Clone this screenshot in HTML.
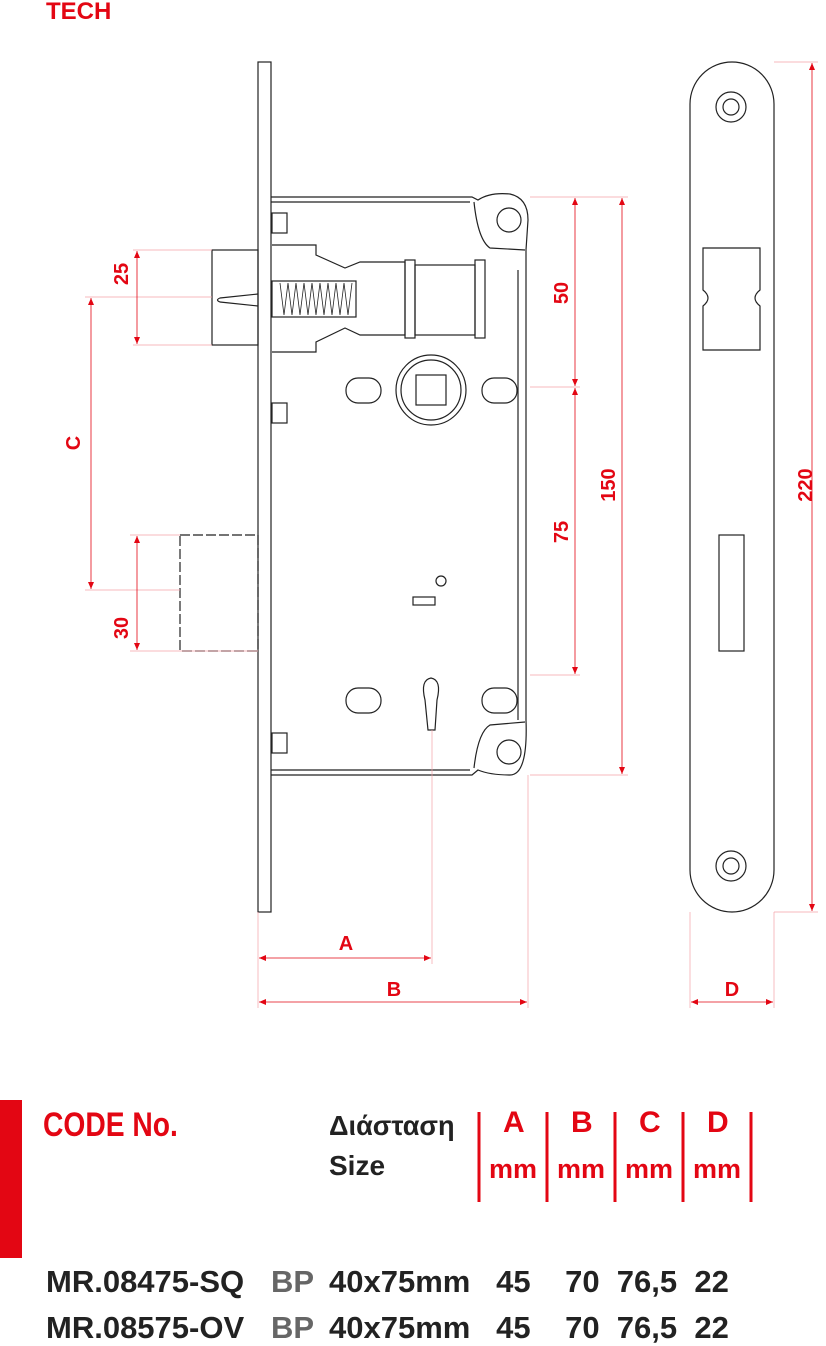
<!DOCTYPE html>
<html><head><meta charset="utf-8"><style>
body{margin:0;background:#fff;width:826px;height:1346px;overflow:hidden;position:relative;font-family:"Liberation Sans",sans-serif;}
.t{position:absolute;font-weight:bold;white-space:nowrap;transform-origin:0 0;}
.r{color:#e30613}
</style></head><body>
<svg width="826" height="1346" style="position:absolute;left:0;top:0">
<defs><marker id="ar" markerWidth="8" markerHeight="8" refX="7" refY="4" orient="auto-start-reverse" markerUnits="userSpaceOnUse"><path d="M0,1 L7,4 L0,7 z" fill="#e30613"/></marker></defs>
<g fill="none" stroke="#222" stroke-width="1.2">
<rect x="258" y="62" width="13" height="850"/>
<path d="M271 197 H472 L478 200 Q490 192 510 194 Q528 198 528 220 L526 250 V720 Q528 775 510 775 Q490 775 478 770 L472 775 H271"/>
<path d="M271 202 H470"/>
<path d="M271 770 H470"/>
<circle cx="509" cy="220" r="12"/><circle cx="509" cy="752" r="12"/>
<path d="M474 202 Q478 240 490 248 L525 250"/>
<path d="M474 768 Q478 732 490 725 L525 722"/>
<line x1="518" y1="270" x2="518" y2="720"/>
<rect x="212" y="250" width="46" height="95"/>
<path d="M258 294 L220 298 Q215 300 220 302 L258 306"/>
<rect x="272" y="281" width="84" height="36"/>
<path d="M272 245 H316 V255 L345 268 L360 262 H405 V335 H360 L345 328 L316 342 V352 H272"/>
<rect x="405" y="260" width="10" height="78"/>
<rect x="415" y="265" width="60" height="70"/>
<rect x="475" y="260" width="10" height="78"/>
<path d="M280 283 l4 32 l4 -32 l4 32 l4 -32 l4 32 l4 -32 l4 32 l4 -32 l4 32 l4 -32 l4 32 l4 -32 l4 32 l4 -32 l4 32 l4 -32 l4 32 l4 -32" stroke-width="0.8"/>
<rect x="272" y="213" width="15" height="20"/><rect x="272" y="403" width="15" height="20"/><rect x="272" y="733" width="15" height="20"/>
<circle cx="431" cy="390" r="35"/><circle cx="431" cy="390" r="30"/>
<rect x="416" y="375" width="30" height="30"/>
<rect x="346" y="378" width="35" height="25" rx="12"/><rect x="482" y="378" width="35" height="25" rx="12"/>
<rect x="346" y="688" width="35" height="25" rx="12"/><rect x="482" y="688" width="35" height="25" rx="12"/>
<circle cx="441" cy="581" r="5"/><rect x="413" y="597" width="22" height="8"/>
<path d="M425 700 Q420 680 431 678 Q442 680 437 700 L435 730 H428 Z"/>
<rect x="180" y="535" width="78" height="116" stroke-dasharray="10 3"/>
<rect x="690" y="62" width="84" height="850" rx="42"/>
<circle cx="731" cy="107" r="15"/><circle cx="731" cy="107" r="8"/>
<circle cx="731" cy="866" r="15"/><circle cx="731" cy="866" r="8"/>
<path d="M703 248 H760 V290 Q750 298 760 306 V350 H703 V306 Q713 298 703 290 Z"/>
<rect x="719" y="535" width="25" height="116"/>
</g>
<g stroke="#f4a0a8" stroke-width="0.7">
<line x1="133" y1="250" x2="212" y2="250"/><line x1="133" y1="345" x2="212" y2="345"/>
<line x1="85" y1="297" x2="212" y2="297"/><line x1="85" y1="590" x2="180" y2="590"/>
<line x1="130" y1="535" x2="180" y2="535"/><line x1="130" y1="651" x2="258" y2="651"/>
<line x1="530" y1="197" x2="628" y2="197"/><line x1="530" y1="387" x2="580" y2="387"/><line x1="530" y1="675" x2="580" y2="675"/><line x1="530" y1="775" x2="628" y2="775"/>
<line x1="774" y1="62" x2="818" y2="62"/><line x1="774" y1="912" x2="818" y2="912"/>
<line x1="258" y1="912" x2="258" y2="1008"/><line x1="432" y1="730" x2="432" y2="964"/><line x1="528" y1="775" x2="528" y2="1008"/>
<line x1="690" y1="912" x2="690" y2="1008"/><line x1="774" y1="912" x2="774" y2="1008"/>
</g>
<g stroke="#e30613" stroke-width="0.8" marker-start="url(#ar)" marker-end="url(#ar)">
<line x1="137" y1="251" x2="137" y2="344"/>
<line x1="91" y1="298" x2="91" y2="589"/>
<line x1="137" y1="536" x2="137" y2="650"/>
<line x1="575" y1="198" x2="575" y2="386"/>
<line x1="575" y1="388" x2="575" y2="674"/>
<line x1="622" y1="198" x2="622" y2="774"/>
<line x1="812" y1="63" x2="812" y2="911"/>
<line x1="259" y1="958" x2="431" y2="958"/>
<line x1="259" y1="1002" x2="527" y2="1002"/>
<line x1="691" y1="1002" x2="773" y2="1002"/>
</g>
<g fill="#e30613" font-family="Liberation Sans,sans-serif" font-weight="bold" font-size="20" text-anchor="middle">
<text transform="translate(128,274) rotate(-90)">25</text>
<text transform="translate(80,443) rotate(-90)">C</text>
<text transform="translate(128,628) rotate(-90)">30</text>
<text transform="translate(568,293) rotate(-90)">50</text>
<text transform="translate(568,532) rotate(-90)">75</text>
<text transform="translate(615,485) rotate(-90)">150</text>
<text transform="translate(812,485) rotate(-90)">220</text>
<text x="346" y="950">A</text><text x="394" y="996">B</text><text x="732" y="996">D</text>
</g>
<rect x="0" y="1100" width="22" height="158" fill="#e30613"/>
<g stroke="#e30613" stroke-width="3">
<line x1="479" y1="1112" x2="479" y2="1202"/><line x1="547" y1="1112" x2="547" y2="1202"/><line x1="615" y1="1112" x2="615" y2="1202"/><line x1="683" y1="1112" x2="683" y2="1202"/><line x1="751" y1="1112" x2="751" y2="1202"/>
</g>
</svg>
<div class="t r" style="left:46px;top:-2px;font-size:24px">TECH</div>
<div class="t r" style="left:43px;top:1106px;font-size:34px;transform:scaleX(0.83)">CODE No.</div>
<div class="t" style="left:329px;top:1110px;font-size:28px;color:#222;transform:scaleX(0.97)">Διάσταση</div>
<div class="t" style="left:329px;top:1150px;font-size:28px;color:#222">Size</div>
<div class="t r" style="left:503px;top:1106px;font-size:30px">A</div>
<div class="t r" style="left:571px;top:1106px;font-size:30px">B</div>
<div class="t r" style="left:639px;top:1106px;font-size:30px">C</div>
<div class="t r" style="left:707px;top:1106px;font-size:30px">D</div>
<div class="t r" style="left:489px;top:1154px;font-size:27px">mm</div>
<div class="t r" style="left:557px;top:1154px;font-size:27px">mm</div>
<div class="t r" style="left:625px;top:1154px;font-size:27px">mm</div>
<div class="t r" style="left:693px;top:1154px;font-size:27px">mm</div>
<div class="t" style="left:46px;top:1264px;font-size:31px;color:#222">MR.08475-SQ</div>
<div class="t" style="left:46px;top:1310px;font-size:31px;color:#222">MR.08575-OV</div>
<div class="t" style="left:271px;top:1264px;font-size:31px;color:#666">BP</div>
<div class="t" style="left:271px;top:1310px;font-size:31px;color:#666">BP</div>
<div class="t" style="left:329px;top:1264px;font-size:31px;color:#222">40x75mm&nbsp;&nbsp; 45&nbsp;&nbsp;&nbsp; 70&nbsp; 76,5&nbsp; 22</div>
<div class="t" style="left:329px;top:1310px;font-size:31px;color:#222">40x75mm&nbsp;&nbsp; 45&nbsp;&nbsp;&nbsp; 70&nbsp; 76,5&nbsp; 22</div>
</body></html>
